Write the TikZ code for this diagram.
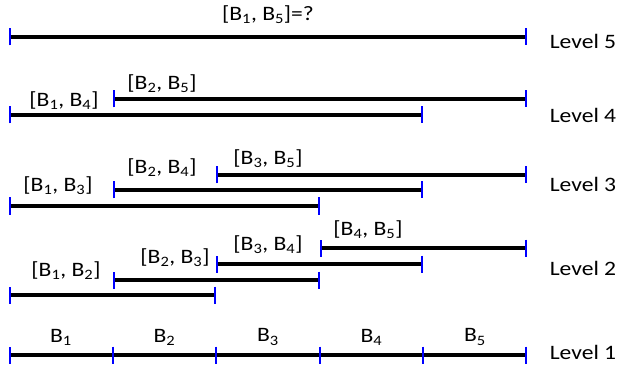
\documentclass[tikz,border=0pt]{standalone}
\usepackage{fontspec}
\setmainfont{Carlito}[FakeStretch=1.15]
\usetikzlibrary{calc,arrows.meta,positioning}
\tikzset{
	endbar/.tip={Bar[color=blue,width=17pt,line width=2pt]},
	span/.style={line width=3.6pt, black, endbar-endbar},
	midbar/.style={draw=blue, line width=2pt},
	lbl/.style={inner sep=0pt, font=\fontsize{20.5}{24}\selectfont},
	lvl/.style={inner sep=0pt, font=\fontsize{20.5}{24}\selectfont}
}

\begin{document}
\begin{tikzpicture}[x=1pt,y=-1pt]
  \useasboundingbox (0,0) rectangle (618,366);
  % tick positions on every row
  \foreach \r/\y in {a/37, b/99, c/115, d/175, e/190, f/206, g/248, h/264, k/280, m/295, n/355}
    \foreach \x [count=\i] in {9,113,216,320,423,527}
      \coordinate (\r\i) at (\x,\y);

  % level 5
  \draw[span] (a1) -- (a6);
  \node[lbl] (t15) at (268,15) {[B\textsubscript{1}, B\textsubscript{5}]=?};
  \node[lvl] (L5) at (583,41) {Level 5};

  % level 4
  \draw[span] (b2) -- (b6);
  \draw[span] (c1) -- (c5);
  \node[lbl] (t25) at (162,84) {[B\textsubscript{2}, B\textsubscript{5}]};
  \node[lbl] (t14) at (64,101) {[B\textsubscript{1}, B\textsubscript{4}]};
  \node[lvl] (L4) at (583,115) {Level 4};

  % level 3
  \draw[span] (d3) -- (d6);
  \draw[span] (e2) -- (e5);
  \draw[span] (f1) -- (f4);
  \node[lbl] (t35) at (268,159) {[B\textsubscript{3}, B\textsubscript{5}]};
  \node[lbl] (t24) at (162,168) {[B\textsubscript{2}, B\textsubscript{4}]};
  \node[lbl] (t13) at (58,186) {[B\textsubscript{1}, B\textsubscript{3}]};
  \node[lvl] (L3) at (583,184) {Level 3};

  % level 2
  \draw[span] (g4) -- (g6);
  \draw[span] (h3) -- (h5);
  \draw[span] (k2) -- (k4);
  \draw[span] (m1) -- (m3);
  \node[lbl] (t45) at (368,230) {[B\textsubscript{4}, B\textsubscript{5}]};
  \node[lbl] (t34) at (268,245) {[B\textsubscript{3}, B\textsubscript{4}]};
  \node[lbl] (t23) at (175,258) {[B\textsubscript{2}, B\textsubscript{3}]};
  \node[lbl] (t12) at (66,271) {[B\textsubscript{1}, B\textsubscript{2}]};
  \node[lvl] (L2) at (583,268) {Level 2};

  % level 1
  \draw[span] (n1) -- (n6);
  \foreach \i in {2,...,5}
    \draw[midbar] ($(n\i)+(0,-8.5)$) -- ($(n\i)+(0,8.5)$);
  \foreach \i [count=\j from 2] in {1,...,5}
    \node[lbl] (B\i) at ($(n\i)!0.5!(n\j)+(0,-18)$) {B\textsubscript{\i}};
  \node[lvl] (L1) at (583,352) {Level 1};
\end{tikzpicture}
\end{document}
